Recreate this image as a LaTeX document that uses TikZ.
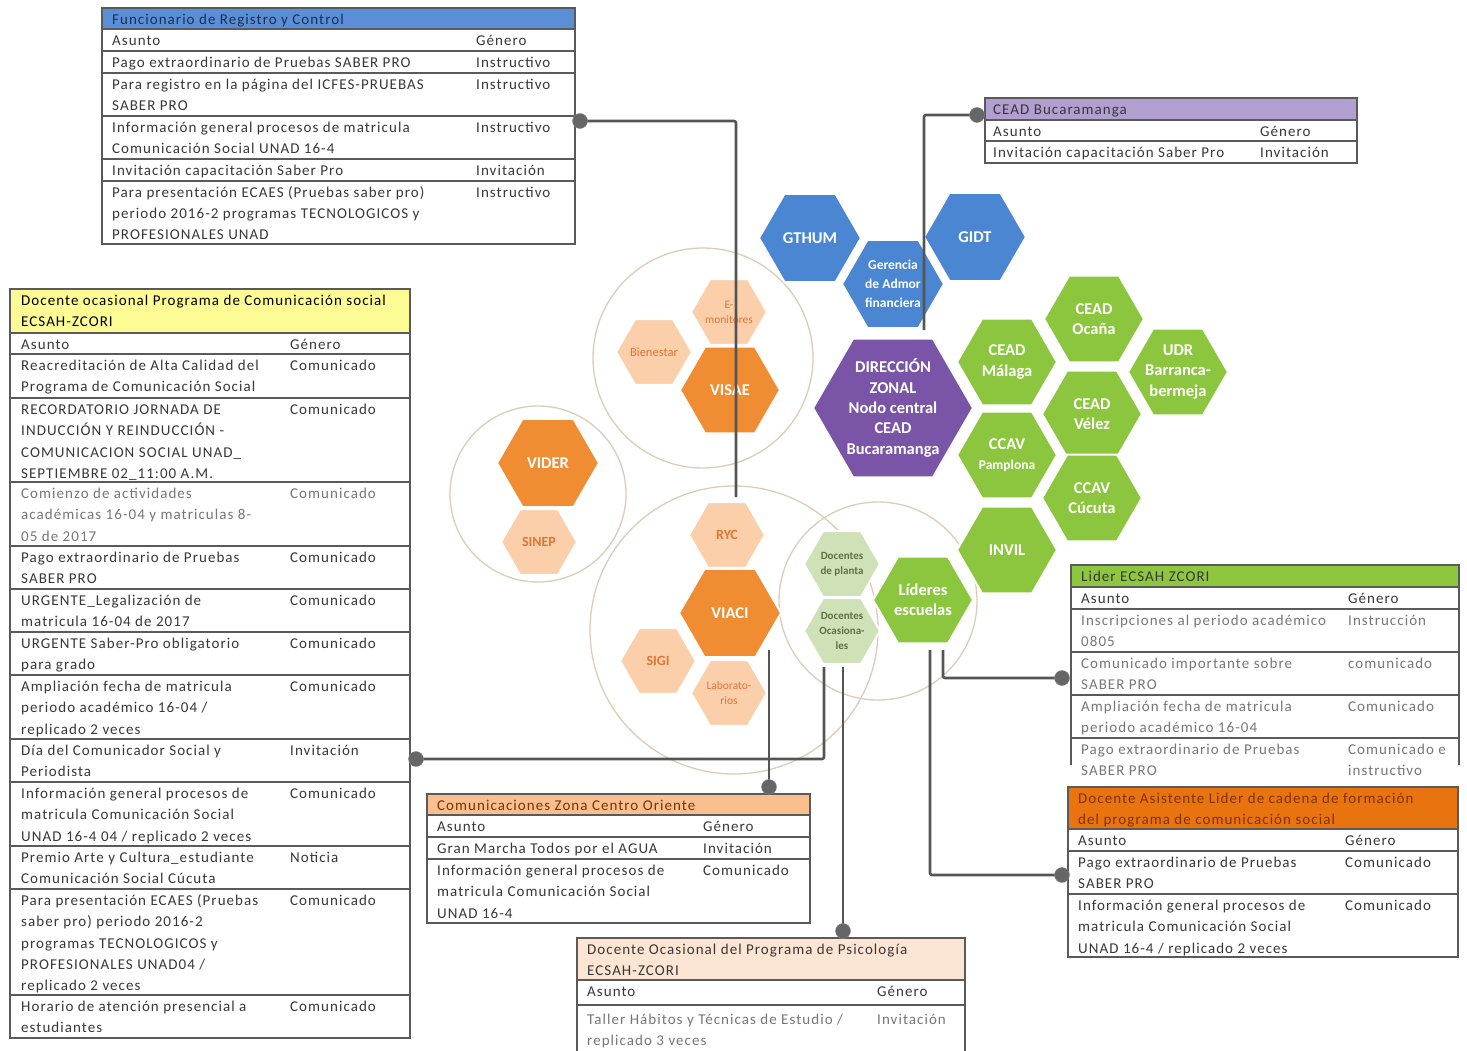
\documentclass[tikz,border=0pt]{standalone}
\usepackage{fontspec}
\setmainfont{Carlito}
\newfontfamily\tabf{Carlito}[LetterSpace=7]
\usetikzlibrary{calc}
\definecolor{hblue}{HTML}{5A8FD8}
\definecolor{hyellow}{HTML}{FDFB94}
\definecolor{hpurple}{HTML}{B19FD0}
\definecolor{hgreen}{HTML}{8DC63F}
\definecolor{horange}{HTML}{E8730F}
\definecolor{hlorange}{HTML}{F9BF8F}
\definecolor{hpeach}{HTML}{FCE5D2}
\definecolor{txt}{HTML}{383838}
\definecolor{txtl}{HTML}{777777}
\definecolor{tborder}{HTML}{5A5A5A}
\definecolor{connc}{HTML}{555555}
\definecolor{dotgrey}{HTML}{666666}
\definecolor{ringc}{HTML}{DCCDB6}
\definecolor{xblue}{HTML}{4A86D2}
\definecolor{xpurple}{HTML}{7A55A7}
\definecolor{xgreen}{HTML}{8CC63E}
\definecolor{xpale}{HTML}{CFE1B6}
\definecolor{xdark}{HTML}{F08C32}
\definecolor{xlight}{HTML}{FBCFAA}
\definecolor{otxt}{HTML}{DE7634}
\definecolor{gtxt}{HTML}{5E7144}
\definecolor{navy}{HTML}{1C2F52}
\definecolor{brown}{HTML}{7F3300}
\newcommand\tabfont{\tabf\fontsize{15}{21.4}\selectfont}
\newcommand\hexbf{\bfseries\fontsize{16.5}{20.3}\selectfont}
\newcommand\hexsm{\fontsize{11.5}{15}\selectfont}
\newcommand\hexsb{\bfseries\fontsize{11}{15}\selectfont}
\newcommand\hexmd{\bfseries\fontsize{14}{18}\selectfont}
\newcommand\cel[5][txt]{\node[cell,text=#1] (#2) at (#3,#4+4) {\rule{0pt}{12pt}#5};}
\newcommand\hexa[7]{%
  \pgfmathsetmacro\hh{0.866*#4}\pgfmathsetmacro\hr{#4/2}%
  \path[#5] (#2+#4,#3) -- (#2+\hr,#3-\hh) -- (#2-\hr,#3-\hh) -- (#2-#4,#3) -- (#2-\hr,#3+\hh) -- (#2+\hr,#3+\hh) -- cycle;
  \node[hext,#6] (#1) at (#2,#3) {#7};}
\tikzset{
  cell/.style={anchor=north west, inner sep=0pt, align=left, font=\tabfont},
  tline/.style={draw=tborder, line width=1.4pt},
  conn/.style={draw=connc, line width=2.6pt},
  dotn/.style={circle, fill=dotgrey, draw=dotgrey!80, inner sep=0pt, minimum size=15pt},
  ring/.style={circle, draw=ringc, line width=1.3pt, inner sep=0pt},
  hext/.style={align=center, inner sep=0pt, text=white, font=\hexbf},
  hexblue/.style={fill=xblue, draw=white, line width=2pt},
  hexpurple/.style={fill=xpurple, draw=white, line width=2pt},
  hexgreen/.style={fill=xgreen, draw=white, line width=2pt},
  hexpale/.style={fill=xpale, draw=white, line width=2pt},
  hexdark/.style={fill=xdark, draw=white, line width=2pt},
  hexlight/.style={fill=xlight, draw=white, line width=2pt},
}
\begin{document}
\begin{tikzpicture}[x=1pt,y=-1pt]
\useasboundingbox (0,0) rectangle (1467,1051);
\fill[white] (0,0) rectangle (1467,1051);

% ---------- rings ----------
\node[ring, minimum size=220pt] (ring1) at (703,358) {};
\node[ring, minimum size=176pt] (ring2) at (538,494) {};
\node[ring, minimum size=288pt] (ring3) at (734,630) {};
\node[ring, minimum size=198pt] (ring4) at (878,601) {};

% ---------- hexagons ----------
\hexa{gthum}{810}{238}{51}{hexblue}{}{GTHUM}
\hexa{gidt}{975}{237}{51}{hexblue}{}{GIDT}
\hexa{geren}{893}{284}{51}{hexblue}{font=\bfseries\fontsize{13.5}{19}\selectfont}{Gerencia\\de Admor\\financiera}
\hexa{dir}{893}{408}{80}{hexpurple}{}{DIRECCIÓN\\ZONAL\\Nodo central\\CEAD\\Bucaramanga}
\hexa{ocana}{1094}{319}{50}{hexgreen}{}{CEAD\\Ocaña}
\hexa{malaga}{1007}{362}{50}{hexgreen}{}{CEAD\\Málaga}
\hexa{udr}{1178}{372}{50}{hexgreen}{}{UDR\\Barranca-\\bermeja}
\hexa{velez}{1092}{414}{50}{hexgreen}{}{CEAD\\Vélez}
\hexa{pamp}{1007}{455}{50}{hexgreen}{}{CCAV\\{\fontsize{13.5}{18}\selectfont Pamplona}}
\hexa{cucuta}{1092}{498}{50}{hexgreen}{}{CCAV\\Cúcuta}
\hexa{invil}{1007}{550}{50}{hexgreen}{}{INVIL}
\hexa{lideres}{923}{600}{50}{hexgreen}{}{Líderes\\escuelas}
\hexa{emon}{729}{312}{38}{hexlight}{text=otxt,font=\hexsm}{E-\\monitores}
\hexa{bien}{654}{352}{38}{hexlight}{text=otxt,font=\fontsize{12.5}{15}\selectfont}{Bienestar}
\hexa{visae}{730}{390}{50}{hexdark}{}{VISAE}
\hexa{vider}{548}{463}{51}{hexdark}{}{VIDER}
\hexa{sinep}{539}{542}{38}{hexlight}{text=otxt,font=\hexmd}{SINEP}
\hexa{ryc}{727}{535}{38}{hexlight}{text=otxt,font=\hexmd}{RYC}
\hexa{viaci}{730}{613}{51}{hexdark}{}{VIACI}
\hexa{sigi}{658}{661}{38}{hexlight}{text=otxt,font=\hexmd}{SIGI}
\hexa{labo}{729}{693}{38}{hexlight}{text=otxt,font=\hexsm}{Laborato-\\rios}
\hexa{docpl}{842}{564}{38}{hexpale}{text=gtxt,font=\hexsb}{Docentes\\de planta}
\hexa{dococ}{842}{631}{38}{hexpale}{text=gtxt,font=\hexsb}{Docentes\\Ocasiona-\\les}

% ---------- Table 1: Funcionario de Registro y Control ----------
\fill[hblue] (102,8) rectangle (575,29);
\draw[tline] (102,8) rectangle (575,244);
\foreach \yy in {29,51,73,116,159,181} \draw[tline] (102,\yy) -- (575,\yy);
\cel[navy]{t1h}{112}{8}{Funcionario de Registro y Control}
\cel{t1a}{112}{29}{Asunto}
\cel{t1b}{476}{29}{Género}
\cel{t1r1a}{112}{51}{Pago extraordinario de Pruebas SABER PRO}
\cel{t1r1b}{476}{51}{Instructivo}
\cel{t1r2a}{112}{73}{Para registro en la página del ICFES-PRUEBAS\\SABER PRO}
\cel{t1r2b}{476}{73}{Instructivo}
\cel{t1r3a}{112}{116}{Información general procesos de matricula\\Comunicación Social UNAD 16-4}
\cel{t1r3b}{476}{116}{Instructivo}
\cel{t1r4a}{112}{159}{Invitación capacitación Saber Pro}
\cel{t1r4b}{476}{159}{Invitación}
\cel{t1r5a}{112}{181}{Para presentación ECAES (Pruebas saber pro)\\periodo 2016-2 programas TECNOLOGICOS y\\PROFESIONALES UNAD}
\cel{t1r5b}{476}{181}{Instructivo}

% ---------- Table 2: Docente ocasional ... ----------
\fill[hyellow] (10,289) rectangle (410,333);
\draw[tline] (10,289) rectangle (410,1038);
\foreach \yy in {333,354,398,482,546,589,632,675,739,782,846,889,995} \draw[tline] (10,\yy) -- (410,\yy);
\cel[black]{t2h}{21}{289}{Docente ocasional Programa de Comunicación social\\ECSAH-ZCORI}
\cel{t2a}{21}{333}{Asunto}
\cel{t2b}{290}{333}{Género}
\cel{t2r1a}{21}{354}{Reacreditación de Alta Calidad del\\Programa de Comunicación Social}
\cel{t2r1b}{290}{354}{Comunicado}
\cel{t2r2a}{21}{398}{RECORDATORIO JORNADA DE\\INDUCCIÓN Y REINDUCCIÓN -\\COMUNICACION SOCIAL UNAD\_\\SEPTIEMBRE 02\_11:00 A.M.}
\cel{t2r2b}{290}{398}{Comunicado}
\cel[txtl]{t2r3a}{21}{482}{Comienzo de actividades\\académicas 16-04 y matriculas 8-\\05 de 2017}
\cel[txtl]{t2r3b}{290}{482}{Comunicado}
\cel{t2r4a}{21}{546}{Pago extraordinario de Pruebas\\SABER PRO}
\cel{t2r4b}{290}{546}{Comunicado}
\cel{t2r5a}{21}{589}{URGENTE\_Legalización de\\matricula 16-04 de 2017}
\cel{t2r5b}{290}{589}{Comunicado}
\cel{t2r6a}{21}{632}{URGENTE Saber-Pro obligatorio\\para grado}
\cel{t2r6b}{290}{632}{Comunicado}
\cel{t2r7a}{21}{675}{Ampliación fecha de matricula\\periodo académico 16-04 /\\replicado 2 veces}
\cel{t2r7b}{290}{675}{Comunicado}
\cel{t2r8a}{21}{739}{Día del Comunicador Social y\\Periodista}
\cel{t2r8b}{290}{739}{Invitación}
\cel{t2r9a}{21}{782}{Información general procesos de\\matricula Comunicación Social\\UNAD 16-4 04 / replicado 2 veces}
\cel{t2r9b}{290}{782}{Comunicado}
\cel{t2r10a}{21}{846}{Premio Arte y Cultura\_estudiante\\Comunicación Social Cúcuta}
\cel{t2r10b}{290}{846}{Noticia}
\cel{t2r11a}{21}{889}{Para presentación ECAES (Pruebas\\saber pro) periodo 2016-2\\programas TECNOLOGICOS y\\PROFESIONALES UNAD04 /\\replicado 2 veces}
\cel{t2r11b}{290}{889}{Comunicado}
\cel{t2r12a}{21}{995}{Horario de atención presencial a\\estudiantes}
\cel{t2r12b}{290}{995}{Comunicado}

% ---------- Table 3: CEAD Bucaramanga ----------
\fill[hpurple] (985,98) rectangle (1357,120);
\draw[tline] (985,98) rectangle (1357,163);
\draw[tline] (985,120) -- (1357,120);
\draw[tline] (985,141) -- (1357,141);
\cel{t3h}{993}{98}{CEAD Bucaramanga}
\cel{t3a}{993}{120}{Asunto}
\cel{t3b}{1260}{120}{Género}
\cel{t3r1a}{993}{141}{Invitación capacitación Saber Pro}
\cel{t3r1b}{1260}{141}{Invitación}

% ---------- Table 4: Lider ECSAH ZCORI ----------
\fill[hgreen] (1071,565) rectangle (1459,587);
\draw[tline] (1071,765) -- (1071,565) -- (1459,565) -- (1459,765);
\foreach \yy in {587,609,652,695,738} \draw[tline] (1071,\yy) -- (1459,\yy);
\cel{t4h}{1081}{565}{Lider ECSAH ZCORI}
\cel{t4a}{1081}{587}{Asunto}
\cel{t4b}{1348}{587}{Género}
\cel[txtl]{t4r1a}{1081}{609}{Inscripciones al periodo académico\\0805}
\cel[txtl]{t4r1b}{1348}{609}{Instrucción}
\cel[txtl]{t4r2a}{1081}{652}{Comunicado importante sobre\\SABER PRO}
\cel[txtl]{t4r2b}{1348}{652}{comunicado}
\cel[txtl]{t4r3a}{1081}{695}{Ampliación fecha de matricula\\periodo académico 16-04}
\cel[txtl]{t4r3b}{1348}{695}{Comunicado}
\cel[txtl]{t4r4a}{1081}{738}{Pago extraordinario de Pruebas\\SABER PRO}
\cel[txtl]{t4r4b}{1348}{738}{Comunicado e\\instructivo}

% ---------- Table 5: Docente Asistente ----------
\fill[horange] (1068,787) rectangle (1458,829);
\draw[tline] (1068,787) rectangle (1458,957);
\foreach \yy in {829,851,894} \draw[tline] (1068,\yy) -- (1458,\yy);
\cel[brown]{t5h}{1078}{787}{Docente Asistente Lider de cadena de formación\\del programa de comunicación social}
\cel{t5a}{1078}{829}{Asunto}
\cel{t5b}{1345}{829}{Género}
\cel{t5r1a}{1078}{851}{Pago extraordinario de Pruebas\\SABER PRO}
\cel{t5r1b}{1345}{851}{Comunicado}
\cel{t5r2a}{1078}{894}{Información general procesos de\\matricula Comunicación Social\\UNAD 16-4 / replicado 2 veces}
\cel{t5r2b}{1345}{894}{Comunicado}

% ---------- Table 6: Comunicaciones Zona Centro Oriente ----------
\fill[hlorange] (427,794) rectangle (810,815);
\draw[tline] (427,794) rectangle (810,923);
\foreach \yy in {815,837,859} \draw[tline] (427,\yy) -- (810,\yy);
\cel[brown]{t6h}{437}{794}{Comunicaciones Zona Centro Oriente}
\cel{t6a}{437}{815}{Asunto}
\cel{t6b}{703}{815}{Género}
\cel{t6r1a}{437}{837}{Gran Marcha Todos por el AGUA}
\cel{t6r1b}{703}{837}{Invitación}
\cel{t6r2a}{437}{859}{Información general procesos de\\matricula Comunicación Social\\UNAD 16-4}
\cel{t6r2b}{703}{859}{Comunicado}

% ---------- Table 7: Psicologia ----------
\fill[hpeach] (577,938) rectangle (965,980);
\draw[tline] (577,1051) -- (577,938) -- (965,938) -- (965,1051);
\foreach \yy in {980,1005} \draw[tline] (577,\yy) -- (965,\yy);
\cel{t7h}{587}{938}{Docente Ocasional del Programa de Psicología\\ECSAH-ZCORI}
\cel{t7a}{587}{980}{Asunto}
\cel{t7b}{877}{980}{Género}
\cel[txtl]{t7r1a}{587}{1008}{Taller Hábitos y Técnicas de Estudio /\\replicado 3 veces}
\cel[txtl]{t7r1b}{877}{1008}{Invitación}

% ---------- connectors ----------
\coordinate (e1) at (736,497);
\coordinate (e2) at (924,330);
\coordinate (e3) at (769,650);
\coordinate (e4) at (824,667);
\coordinate (e5) at (843,667);
\coordinate (e6) at (943,650);
\coordinate (e7) at (930,650);
\coordinate (p1) at (580,121);
\coordinate (p2) at (977,115);
\coordinate (p3) at (769,787);
\coordinate (p4) at (416,759);
\coordinate (p5) at (843,931);
\coordinate (p6) at (1062,678);
\coordinate (p7) at (1062,875);
\draw[conn, rounded corners=2pt] (p1) -| (e1);
\draw[conn, rounded corners=2pt] (p2) -| (e2);
\draw[conn] (e3) -- (p3);
\draw[conn, rounded corners=2pt] (e4) |- (p4);
\draw[conn] (e5) -- (p5);
\draw[conn, rounded corners=2pt] (e6) |- (p6);
\draw[conn, rounded corners=2pt] (e7) |- (p7);
\node[dotn] (d1) at (p1) {};
\node[dotn] (d2) at (p2) {};
\node[dotn] (d3) at (p3) {};
\node[dotn] (d4) at (p4) {};
\node[dotn] (d5) at (p5) {};
\node[dotn] (d6) at (p6) {};
\node[dotn] (d7) at (p7) {};
\end{tikzpicture}
\end{document}
